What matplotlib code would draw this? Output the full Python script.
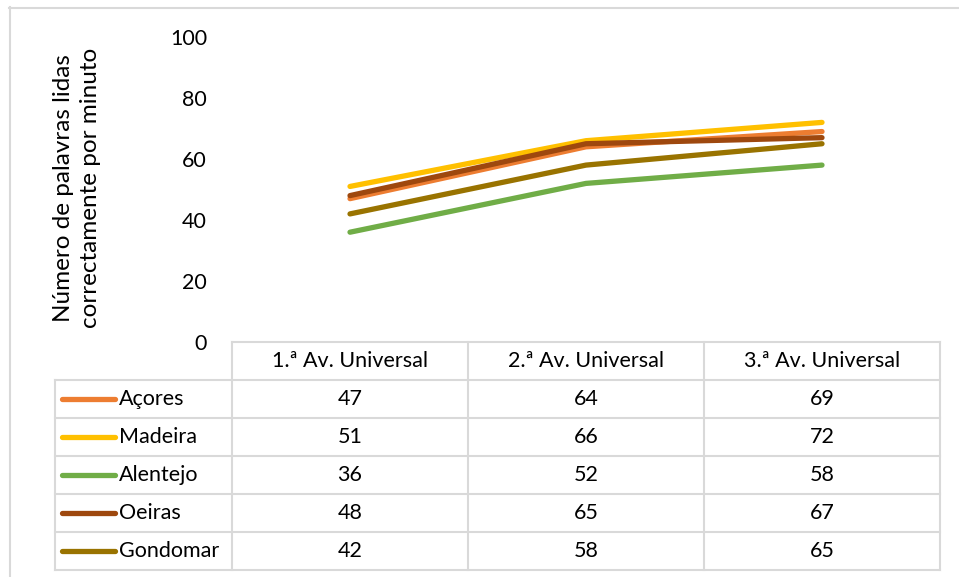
import matplotlib
matplotlib.use("Agg")
import matplotlib.pyplot as plt
from matplotlib.lines import Line2D

plt.rcParams['font.family'] = ['Lato', 'DejaVu Sans']

# Data
categories = ["1.ª Av. Universal", "2.ª Av. Universal", "3.ª Av. Universal"]
series_names = ["Açores", "Madeira", "Alentejo", "Oeiras", "Gondomar"]
acores = [47, 64, 69]
madeira = [51, 66, 72]
alentejo = [36, 52, 58]
oeiras = [48, 65, 67]
gondomar = [42, 58, 65]
series_values = [acores, madeira, alentejo, oeiras, gondomar]
colors = ["#ED7D31", "#FFC000", "#70AD47", "#9E480E", "#997300"]
y_ticks = [0, 20, 40, 60, 80, 100]
y_label = "Número de palavras lidas\ncorrectamente por minuto"

W, H = 959, 577
DPI = 100
fig = plt.figure(figsize=(W / DPI, H / DPI), dpi=DPI)

def fx(px):
    return px / W

def fy(py):
    return 1 - py / H

grid_col = "#D9D9D9"
text_col = "#000000"
fs = 15.5

# Outer chart border
fig.add_artist(Line2D([fx(9), fx(959)], [fy(7.5), fy(7.5)], color=grid_col, lw=1.5))
fig.add_artist(Line2D([fx(9.5), fx(9.5)], [fy(7), fy(577)], color=grid_col, lw=1.5))

# Plot area
left, right = 232, 940
top0, bot0 = 37, 342
ax = fig.add_axes([fx(left), fy(bot0), fx(right) - fx(left), fy(top0) - fy(bot0)])
ax.set_xlim(0, len(categories))
ax.set_ylim(0, 100)
for s in ax.spines.values():
    s.set_visible(False)
ax.set_xticks([])
ax.set_yticks(y_ticks)
ax.set_yticklabels([str(t) for t in y_ticks], fontsize=fs, color=text_col)
ax.tick_params(axis='y', length=0, pad=18)
ax.patch.set_alpha(0)

xs = [i + 0.5 for i in range(len(categories))]
for vals, c in zip(series_values, colors):
    ax.plot(xs, vals, color=c, lw=3.8, solid_capstyle='round', solid_joinstyle='round')

fig.text(fx(77), fy(188), y_label, rotation=90, ha='center', va='center',
         fontsize=17.5, color=text_col, linespacing=1.4)

# Data table
tab_left = 55
row_top = 342
row_h = 38
n_rows = len(series_names)
tab_bottom = row_top + row_h * (n_rows + 1)
tax = fig.add_axes([fx(tab_left), fy(tab_bottom), fx(right) - fx(tab_left), fy(row_top) - fy(tab_bottom)])
tax.set_xlim(tab_left, right)
tax.set_ylim(tab_bottom, row_top)
tax.axis('off')

col_w = (right - left) / len(categories)
lw_g = 1.5
# horizontal rules
tax.plot([left, right], [row_top, row_top], color=grid_col, lw=lw_g, clip_on=False)
for r in range(1, n_rows + 2):
    y = row_top + r * row_h
    tax.plot([tab_left, right], [y, y], color=grid_col, lw=lw_g, clip_on=False)
# vertical rules
tax.plot([tab_left, tab_left], [row_top + row_h, tab_bottom], color=grid_col, lw=lw_g, clip_on=False)
for i in range(len(categories) + 1):
    x = left + i * col_w
    tax.plot([x, x], [row_top, tab_bottom], color=grid_col, lw=lw_g, clip_on=False)

# header row
for i, cat in enumerate(categories):
    tax.text(left + (i + 0.5) * col_w, row_top + row_h / 2, cat, ha='center', va='center',
             fontsize=fs, color=text_col)

# series rows with legend keys
for r, (name, vals, c) in enumerate(zip(series_names, series_values, colors)):
    yc = row_top + (r + 1.5) * row_h
    tax.plot([62, 115], [yc, yc], color=c, lw=3.8, solid_capstyle='round', clip_on=False)
    tax.text(119, yc, name, ha='left', va='center', fontsize=fs, color=text_col)
    for i, v in enumerate(vals):
        tax.text(left + (i + 0.5) * col_w, yc, str(v), ha='center', va='center',
                 fontsize=fs, color=text_col)

fig.savefig("out.png", dpi=DPI, facecolor="white")
